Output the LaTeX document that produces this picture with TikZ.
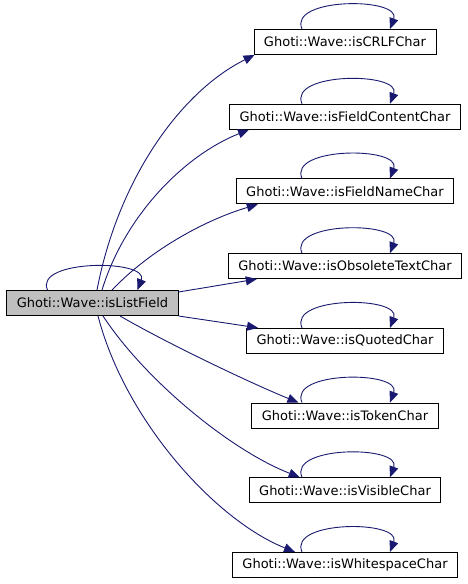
\documentclass[tikz,border=0pt]{standalone}
\usepackage{fontspec}
\setmainfont{DejaVu Sans}
\usetikzlibrary{arrows.meta}
\definecolor{edgeblue}{HTML}{191970}
\definecolor{nodegray}{HTML}{BFBFBF}

\begin{document}
\begin{tikzpicture}[
  x=1pt, y=-1pt,
  func/.style={draw=black, line width=0.9pt, fill=#1, inner xsep=10pt, inner ysep=0pt,
    minimum height=25pt, font=\fontsize{13}{15}\selectfont},
  func/.default={white},
  call/.style={edgeblue, line width=0.9pt, -{Triangle[length=11pt,width=9pt]}}
]
  \useasboundingbox (0,0) rectangle (468,584);
  % caller
  \node[func=nodegray] (main) at (92.5,303) {Ghoti::Wave::isListField};
  \draw[call] ([xshift=-45pt]main.north) .. controls +(-14pt,31pt) and +(12pt,31pt) .. ([xshift=45pt]main.north);
  % callees with their self loops
  \foreach \n/\t [count=\i] in {crlf/isCRLFChar, fcontent/isFieldContentChar,
      fname/isFieldNameChar, obsolete/isObsoleteTextChar, quoted/isQuotedChar,
      token/isTokenChar, visible/isVisibleChar, wspace/isWhitespaceChar} {
    \node[func] (\n) at (345,{42+74.7*(\i-1)}) {Ghoti::Wave::\t};
    \draw[call] ([xshift=-43pt]\n.north) .. controls +(-14pt,32pt) and +(12pt,32pt) .. ([xshift=45pt]\n.north);
  }
  % calls from the caller
  \draw[call] ([xshift=4.5pt]main.north) .. controls (118,180) and (180,92) .. ([xshift=1pt]crlf.south west);
  \draw[call] ([xshift=9.5pt]main.north) .. controls (125,215) and (185,155) .. ([xshift=20pt]fcontent.south west);
  \draw[call] ([xshift=19.5pt]main.north) .. controls (150,250) and (205,220) .. ([xshift=22pt]fname.south west);
  \draw[call] ([yshift=11pt]main.east) -- ([xshift=29pt]obsolete.south west);
  \draw[call] ([yshift=-13pt]main.east) -- ([xshift=12pt]quoted.north west);
  \draw[call] ([xshift=27.5pt]main.south) .. controls (170,345) and (255,385) .. ([xshift=47pt]token.north west);
  \draw[call] ([xshift=10.5pt]main.south) .. controls (145,380) and (230,450) .. ([xshift=51pt]visible.north west);
  \draw[call] ([xshift=5.5pt]main.south) .. controls (125,420) and (215,520) .. ([xshift=63pt]wspace.north west);
\end{tikzpicture}
\end{document}
